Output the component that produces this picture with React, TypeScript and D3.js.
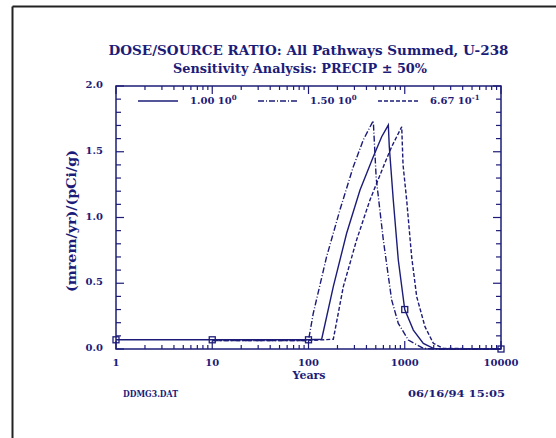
import React from "react";
import * as d3 from "d3";

// series (years, dose/source ratio)
const years1 = [1, 10, 100, 137, 181, 249, 343, 471, 576, 675, 691, 760, 857, 1000, 1228, 1560, 1982, 2500, 10000];
const dose1 = [0.07, 0.07, 0.07, 0.074, 0.474, 0.88, 1.209, 1.462, 1.614, 1.703, 1.538, 1.133, 0.677, 0.3, 0.144, 0.043, 0.005, 0, 0];

const years2 = [10, 100, 112, 154, 212, 292, 371, 471, 505, 599, 731, 857, 1089, 1560, 2000, 10000];
const dose2 = [0.065, 0.065, 0.27, 0.7, 1.057, 1.386, 1.59, 1.736, 1.3, 0.829, 0.373, 0.195, 0.068, 0.005, 0, 0];

const years3 = [10, 100, 181, 230, 316, 435, 599, 731, 930, 960, 1047, 1180, 1331, 1622, 1982, 2513, 10000];
const dose3 = [0.065, 0.065, 0.074, 0.474, 0.829, 1.133, 1.386, 1.538, 1.69, 1.4, 1.133, 0.7, 0.398, 0.17, 0.043, 0.005, 0];

const markerYears = [1, 10, 100, 1000, 10000];
const markerDose = [0.07, 0.07, 0.07, 0.3, 0];

const legendMant = ["1.00", "1.50", "6.67"];
const legendExp = ["0", "0", "-1"];
const legendDash = ["", "6,2,1,2", "4,2"];

const xTickLabels = ["1", "10", "100", "1000", "10000"];
const yTickLabels = ["0.0", "0.5", "1.0", "1.5", "2.0"];

const navy = "#1c1c78";
const font = "'DejaVu Serif', serif";

export default function App() {
  const left = 116, right = 501, top = 86, bottom = 349;
  const x = d3.scaleLog().domain([1, 10000]).range([left, right]);
  const y = d3.scaleLinear().domain([0, 2]).range([bottom, top]);

  const series = [
    { yr: years1, v: dose1, dash: legendDash[0] },
    { yr: years2, v: dose2, dash: legendDash[1] },
    { yr: years3, v: dose3, dash: legendDash[2] },
  ];
  const line = d3.line<[number, number]>().x(d => x(d[0])).y(d => y(d[1]));

  const xTicks = x.ticks();
  const yTicks = d3.range(0, 21).map(i => i / 10);

  return (
    <svg width={556} height={438} style={{ position: "absolute", left: 0, top: 0, background: "#fff" }}>
      {/* outer frame */}
      <line x1={12.5} y1={6.5} x2={556} y2={6.5} stroke="#222" strokeWidth={2} />
      <line x1={12.5} y1={6.5} x2={12.5} y2={438} stroke="#222" strokeWidth={2} />

      <g fill={navy} fontFamily={font} fontWeight="bold">
        <text x={308.5} y={55} textAnchor="middle" fontSize={13} textLength={400} lengthAdjust="spacingAndGlyphs">
          DOSE/SOURCE RATIO: All Pathways Summed, U-238
        </text>
        <text x={300} y={73} textAnchor="middle" fontSize={13} textLength={254} lengthAdjust="spacingAndGlyphs">
          Sensitivity Analysis: PRECIP ± 50%
        </text>
      </g>

      {/* plot frame */}
      <rect x={left} y={top} width={right - left} height={bottom - top} fill="none" stroke={navy} strokeWidth={1.5} />

      {/* x ticks */}
      {xTicks.map((t, i) => {
        const major = Math.abs(Math.log10(t) - Math.round(Math.log10(t))) < 1e-9;
        const len = major ? 8 : 4;
        return (
          <g key={"xt" + i} stroke={navy} strokeWidth={1.2}>
            <line x1={x(t)} x2={x(t)} y1={bottom} y2={bottom - len} />
            <line x1={x(t)} x2={x(t)} y1={top} y2={top + len} />
          </g>
        );
      })}
      {/* y ticks */}
      {yTicks.map((v, i) => {
        const len = i % 5 === 0 ? 8 : 5;
        return (
          <g key={"yt" + i} stroke={navy} strokeWidth={1.2}>
            <line x1={left} x2={left + len} y1={y(v)} y2={y(v)} />
            <line x1={right} x2={right - len} y1={y(v)} y2={y(v)} />
          </g>
        );
      })}

      <g fill={navy} fontFamily={font} fontWeight="bold" fontSize={10}>
        {xTickLabels.map((s, i) => (
          <text key={"xl" + i} x={x(Math.pow(10, i))} y={366} textAnchor="middle">{s}</text>
        ))}
        {yTickLabels.map((s, i) => (
          <text key={"yl" + i} x={103} y={y(i * 0.5) + 2} textAnchor="end">{s}</text>
        ))}
        <text x={309} y={379} textAnchor="middle" fontSize={11}>Years</text>
        <text x={0} y={0} transform="translate(76,221) rotate(-90)" textAnchor="middle" fontSize={12} textLength={142} lengthAdjust="spacingAndGlyphs">
          (mrem/yr)/(pCi/g)
        </text>
        <text x={123} y={397} fontSize={9} textLength={55} lengthAdjust="spacingAndGlyphs">DDMG3.DAT</text>
        <text x={505} y={397} fontSize={9} textAnchor="end" textLength={97} lengthAdjust="spacingAndGlyphs">06/16/94  15:05</text>
      </g>

      {/* legend */}
      {legendMant.map((m, i) => {
        const lx = 138 + i * 120;
        return (
          <g key={"lg" + i}>
            <line x1={lx} x2={lx + 40} y1={101} y2={101} stroke={navy} strokeWidth={1.3} strokeDasharray={legendDash[i] || undefined} />
            <text x={lx + 52} y={104} fill={navy} fontFamily={font} fontWeight="bold" fontSize={10}>
              {m} 10<tspan dy={-4} fontSize={7}>{legendExp[i]}</tspan>
            </text>
          </g>
        );
      })}

      {/* curves */}
      {series.map((s, i) => (
        <path
          key={"s" + i}
          d={line(s.yr.map((t, j) => [t, s.v[j]] as [number, number])) || ""}
          fill="none"
          stroke={navy}
          strokeWidth={1.4}
          strokeDasharray={s.dash || undefined}
        />
      ))}

      {markerYears.map((t, i) => (
        <rect key={"m" + i} x={x(t) - 3} y={y(markerDose[i]) - 3} width={6} height={6} fill="none" stroke={navy} strokeWidth={1.3} />
      ))}
    </svg>
  );
}
